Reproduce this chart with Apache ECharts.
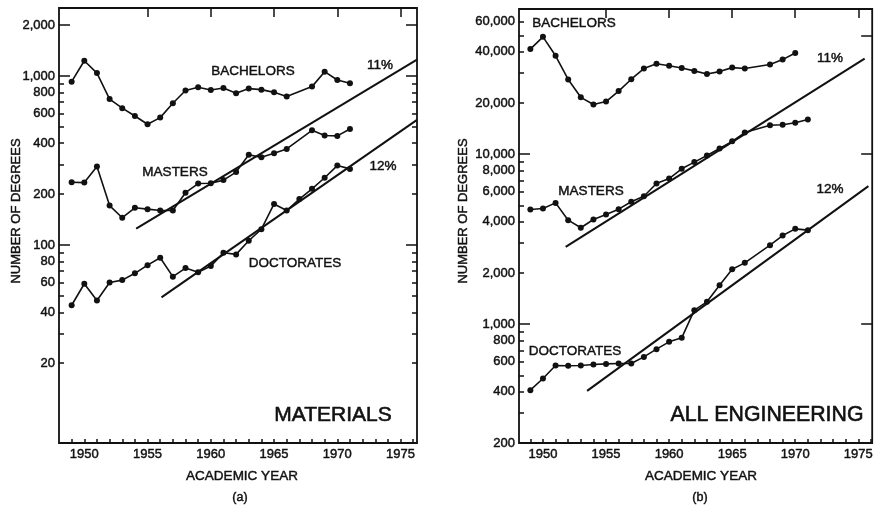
<!DOCTYPE html>
<html><head><meta charset="utf-8">
<script src="https://cdn.jsdelivr.net/npm/echarts@6/dist/echarts.min.js"></script>
<style>html,body{margin:0;padding:0;background:#fff}#c{width:876px;height:507px}</style>
</head><body><div id="c"></div>
<script>
// ---------- DATA ----------
// (a) MATERIALS
const matYearsBM = [1949,1950,1951,1952,1953,1954,1955,1956,1957,1958,1959,1960,1961,1962,1963,1964,1965,1966,1968,1969,1970,1971];
const matBachelors = [925,1230,1040,730,645,580,518,567,690,820,857,826,849,790,842,830,800,755,865,1060,947,905];
const matMasters = [235,234,291,171,145,166,163,160,160,204,231,232,242,270,342,330,349,370,477,444,442,486];
const matYearsD = [1949,1950,1951,1952,1953,1954,1955,1956,1957,1958,1959,1960,1961,1962,1963,1964,1965,1966,1967,1968,1969,1970,1971];
const matDoctorates = [44,59,47,60,62,68,76,84,65,73,69,75,90,88,106,124,175,160,187,215,250,295,282];
const matTrend11 = [[1954.1,125],[1976.3,1250]];
const matTrend12 = [[1956.1,49],[1976.3,550]];
// (b) ALL ENGINEERING
const engYearsB = [1949,1950,1951,1952,1953,1954,1955,1956,1957,1958,1959,1960,1961,1962,1963,1964,1965,1966,1968,1969,1970];
const engBachelors = [41500,49000,37900,27500,21600,19600,20400,23500,27600,31900,34000,33100,32100,30900,29600,30600,32300,31900,33700,36000,39400];
const engYearsMD = [1949,1950,1951,1952,1953,1954,1955,1956,1957,1958,1959,1960,1961,1962,1963,1964,1965,1966,1968,1969,1970,1971];
const engMasters = [4730,4790,5170,4090,3690,4130,4420,4750,5250,5660,6720,7190,8200,8980,9820,10800,11900,13400,14800,14900,15300,16000];
const engDoctorates = [409,479,571,569,571,579,584,587,587,642,713,787,831,1209,1353,1696,2106,2295,2915,3323,3636,3573];
const engTrend11 = [[1951.8,2850],[1975.5,36500]];
const engTrend12 = [[1953.5,405],[1975.8,6490]];
// tick labels
const yearLabels = [1950,1955,1960,1965,1970,1975];
const matYLabels = [20,40,60,80,100,200,400,600,800,1000,2000];
const matYMinor = [20,30,40,50,60,70,80,90,200,300,400,500,600,700,800,900];
const matYMajor = [100,1000,2000];
const engYLabels = [200,400,600,800,1000,2000,4000,6000,8000,10000,20000,40000,60000];
const engYMinor = [300,400,500,600,700,800,900,2000,3000,4000,5000,6000,7000,8000,9000,20000,30000,40000,50000,60000];
const engYMajor = [1000,10000];
const engYRightMajor = [1000,10000,50000];

// ---------- CHART ----------
const FONT = '"Liberation Sans", Arial, Helvetica, sans-serif';
const INK = '#111111';
const L10 = Math.log10;
const pairs = (xs, ys) => xs.map((x, i) => [x, ys[i]]);
const fmt = v => Math.round(Math.pow(10, v)).toLocaleString('en-US');
const yearRange = (a, b) => { const r = []; for (let y = a; y <= b; y++) r.push(y); return r; };

const panels = [
  {grid: {left: 59, top: 8, width: 358, height: 435}, xmin: 1948, xmax: 1976.3, ymin: 6.74, ymax: 2524,
   labels: matYLabels, minor: matYMinor, major: matYMajor, rmajor: matYMajor, rminor: matYMinor,
   series: [[matYearsBM, matBachelors], [matYearsBM, matMasters], [matYearsD, matDoctorates]],
   trends: [matTrend11, matTrend12]},
  {grid: {left: 519, top: 9, width: 354, height: 434}, xmin: 1948.1, xmax: 1976.1, ymin: 200, ymax: 71450,
   labels: engYLabels, minor: engYMinor, major: engYMajor, rmajor: engYRightMajor, rminor: [],
   series: [[engYearsB, engBachelors], [engYearsMD, engMasters], [engYearsMD, engDoctorates]],
   trends: [engTrend11, engTrend12]}
];

const labelStyle = {color: INK, fontFamily: FONT, fontSize: 13, textBorderColor: INK, textBorderWidth: 0.45};
const grid = [], xAxis = [], yAxis = [], series = [];
const tickStyle = {color: INK, width: 1.5};
panels.forEach((p, gi) => {
  grid.push(Object.assign({show: true, borderColor: INK, borderWidth: 1.8, backgroundColor: 'transparent'}, p.grid));
  const xMain = xAxis.length;
  xAxis.push({type: 'value', gridIndex: gi, min: p.xmin, max: p.xmax, axisLine: {show: false}, splitLine: {show: false},
    axisTick: {show: true, inside: true, length: 4, lineStyle: tickStyle, customValues: yearRange(1949, 1976)},
    axisLabel: Object.assign({show: true, customValues: yearLabels, margin: 5, formatter: v => String(v)}, labelStyle)});
  xAxis.push({type: 'value', gridIndex: gi, min: p.xmin, max: p.xmax, axisLine: {show: false}, splitLine: {show: false},
    axisTick: {show: true, inside: true, length: 9, lineStyle: tickStyle, customValues: [1955,1960,1965,1970,1975]},
    axisLabel: {show: false}});
  const yLog = yAxis.length;
  yAxis.push({type: 'log', logBase: 10, gridIndex: gi, min: p.ymin, max: p.ymax, show: false});
  const lmin = L10(p.ymin), lmax = L10(p.ymax);
  const base = {type: 'value', gridIndex: gi, min: lmin, max: lmax, axisLine: {show: false}, splitLine: {show: false}};
  yAxis.push(Object.assign({}, base, {position: 'left',
    axisTick: {show: true, inside: true, length: 5, lineStyle: tickStyle, customValues: p.minor.map(L10)},
    axisLabel: Object.assign({show: true, customValues: p.labels.map(L10), margin: 4, formatter: fmt}, labelStyle)}));
  yAxis.push(Object.assign({}, base, {position: 'left',
    axisTick: {show: true, inside: true, length: 11, lineStyle: tickStyle, customValues: p.major.map(L10)}, axisLabel: {show: false}}));
  yAxis.push(Object.assign({}, base, {position: 'right',
    axisTick: {show: p.rminor.length > 0, inside: true, length: 5, lineStyle: tickStyle, customValues: p.rminor.length ? p.rminor.map(L10) : [lmin]}, axisLabel: {show: false}}));
  yAxis.push(Object.assign({}, base, {position: 'right',
    axisTick: {show: true, inside: true, length: 11, lineStyle: tickStyle, customValues: p.rmajor.map(L10)}, axisLabel: {show: false}}));
  p.series.forEach(([xs, ys]) => {
    series.push({type: 'line', xAxisIndex: xMain, yAxisIndex: yLog, data: pairs(xs, ys), symbol: 'circle', symbolSize: 6,
      lineStyle: {color: INK, width: 1.6}, itemStyle: {color: INK}, silent: true, animation: false});
  });
  p.trends.forEach(t => {
    series.push({type: 'line', xAxisIndex: xMain, yAxisIndex: yLog, data: t, symbol: 'none',
      lineStyle: {color: INK, width: 2}, silent: true, animation: false});
  });
});

function txt(x, y, s, size, extra) {
  return Object.assign({type: 'text', x: x, y: y, silent: true,
    style: {text: s, fill: INK, stroke: INK, lineWidth: size > 18 ? 0.6 : 0.45, font: size + 'px ' + FONT,
      align: 'center', verticalAlign: 'middle', textAlign: 'center', textVerticalAlign: 'middle'}}, extra || {});
}
const graphic = [
  txt(253, 71, 'BACHELORS', 13.5), txt(380, 65, '11%', 13.5), txt(175, 172, 'MASTERS', 13.5),
  txt(383, 166, '12%', 13.5), txt(295, 263, 'DOCTORATES', 13.5), txt(333, 415, 'MATERIALS', 21),
  txt(16, 211, 'NUMBER OF DEGREES', 13, {rotation: Math.PI / 2}), txt(242, 476, 'ACADEMIC YEAR', 13.5), txt(240, 498, '(a)', 12.5),
  txt(574, 23, 'BACHELORS', 13.5), txt(830, 58, '11%', 13.5), txt(591, 191, 'MASTERS', 13.5),
  txt(830, 189, '12%', 13.5), txt(575, 351, 'DOCTORATES', 13.5), txt(767, 415, 'ALL ENGINEERING', 21.3),
  txt(463, 211, 'NUMBER OF DEGREES', 13, {rotation: Math.PI / 2}), txt(701, 476, 'ACADEMIC YEAR', 13.5), txt(700, 498, '(b)', 12.5)
];

const chart = echarts.init(document.getElementById('c'), null, {renderer: 'canvas'});
chart.setOption({animation: false, backgroundColor: '#fff', grid, xAxis, yAxis, series, graphic});
</script></body></html>
